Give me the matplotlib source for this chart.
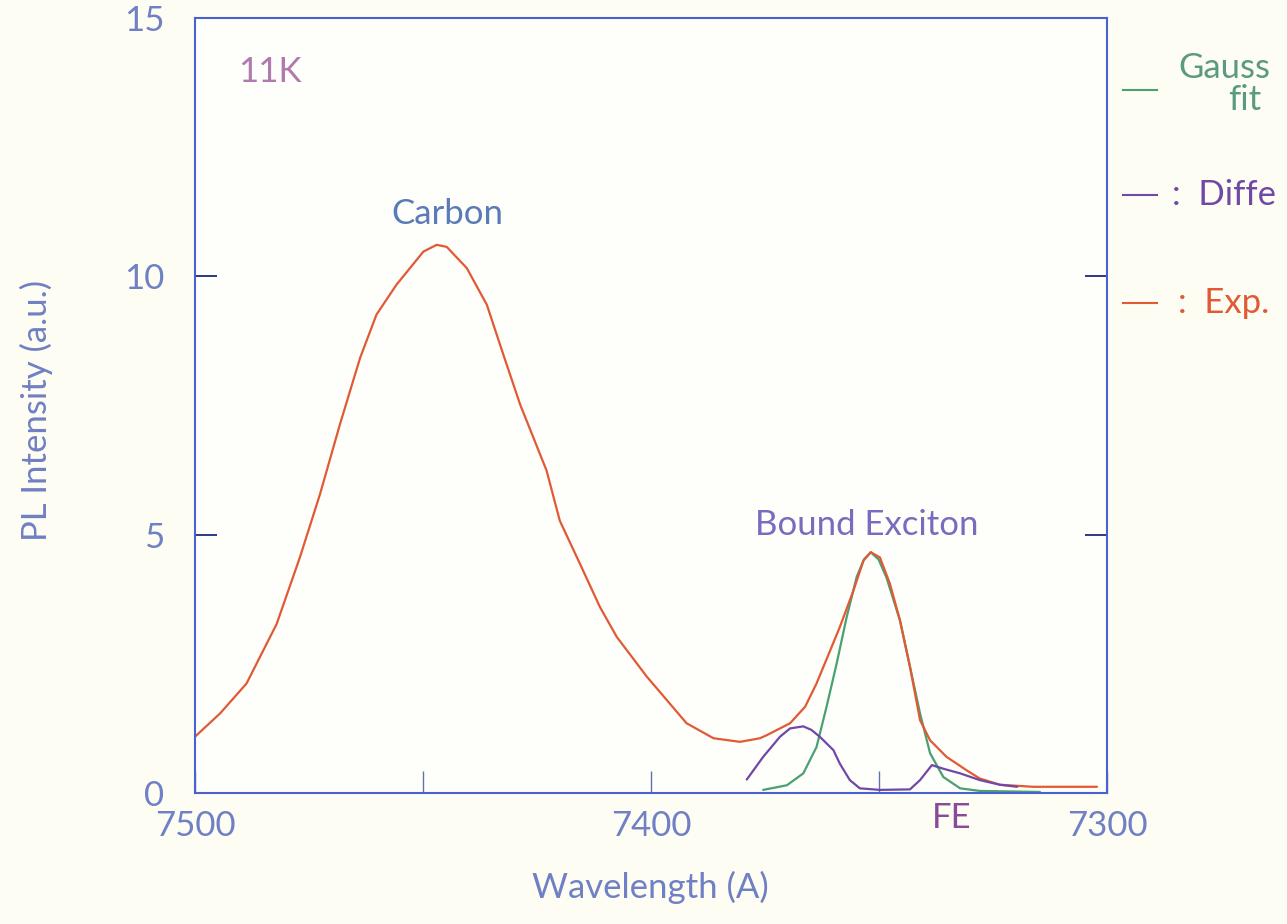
import matplotlib
matplotlib.use("Agg")
import matplotlib.pyplot as plt
from matplotlib.lines import Line2D

wl_exp = [7500.0, 7494.5, 7488.7, 7482.1, 7477.0, 7472.6, 7468.2, 7463.8, 7460.2,
          7455.8, 7449.9, 7447.0, 7444.8, 7440.4, 7436.0, 7432.4, 7428.7, 7422.9,
          7420.0, 7415.6, 7411.2, 7407.5, 7400.9, 7392.2, 7386.3, 7380.5, 7376.1,
          7374.6, 7369.5, 7366.2, 7363.7, 7360.7, 7358.6, 7355.6, 7353.4, 7351.8,
          7349.8, 7347.6, 7345.4, 7343.2, 7341.0, 7338.8, 7335.2, 7330.8, 7327.9,
          7323.5, 7316.2, 7302.2]
pl_exp = [1.09, 1.54, 2.12, 3.27, 4.56, 5.78, 7.14, 8.42, 9.26,
          9.84, 10.48, 10.61, 10.57, 10.16, 9.45, 8.49, 7.52, 6.24,
          5.27, 4.44, 3.60, 3.02, 2.25, 1.35, 1.06, 0.99, 1.06,
          1.12, 1.35, 1.67, 2.12, 2.76, 3.21, 3.92, 4.50, 4.66,
          4.56, 4.05, 3.34, 2.44, 1.41, 1.02, 0.70, 0.44, 0.28,
          0.16, 0.12, 0.12]

# gaussian fit of the bound exciton line
wl_fit = [7375.4, 7370.2, 7366.6, 7363.7, 7361.5, 7359.3, 7357.1, 7354.9, 7353.3,
          7351.8, 7350.1, 7348.4, 7345.4, 7343.2, 7341.0, 7338.8, 7335.9, 7332.2,
          7327.9, 7314.7]
pl_fit = [0.06, 0.15, 0.38, 0.89, 1.67, 2.50, 3.40, 4.18, 4.52,
          4.66, 4.52, 4.18, 3.34, 2.44, 1.54, 0.77, 0.31, 0.09,
          0.04, 0.02]

# difference (exp - fit)
wl_diff = [7379.0, 7375.4, 7371.7, 7369.5, 7366.6, 7364.8, 7363.0, 7360.0, 7358.6,
           7356.4, 7354.2, 7349.8, 7343.2, 7341.0, 7338.4, 7335.9, 7332.2, 7327.9,
           7323.5, 7319.7]
pl_diff = [0.26, 0.70, 1.09, 1.25, 1.29, 1.22, 1.09, 0.83, 0.57,
           0.25, 0.09, 0.06, 0.07, 0.25, 0.54, 0.47, 0.38, 0.25,
           0.16, 0.12]

W, H = 1287, 924
FS = 25
c_axis = "#4a62d0"
c_tick = "#1e2a80"
c_lab = "#7080c4"
c_exp = "#e05a35"
c_fit = "#4aa070"
c_diff = "#7048a8"

plt.rcParams["font.family"] = ["Lato", "DejaVu Sans"]

fig = plt.figure(figsize=(W / 100, H / 100), dpi=100, facecolor="#fdfdf3")
ax = fig.add_axes([195 / W, 1 - 793 / H, 912 / W, 775 / H])
ax.set_facecolor("#fefefa")

kw = dict(lw=1.6, solid_joinstyle="round", solid_capstyle="round")
ax.plot(wl_fit, pl_fit, color=c_fit, **kw)
ax.plot(wl_exp, pl_exp, color=c_exp, **kw)
ax.plot(wl_diff, pl_diff, color=c_diff, **kw)

ax.set_xlim(7500, 7300)
ax.set_ylim(0, 15)
ax.set_xticks([7500, 7400, 7300])
ax.set_xticks([7450, 7350], minor=True)
ax.set_yticks([0, 5, 10, 15])

for s in ax.spines.values():
    s.set_color(c_axis)
    s.set_linewidth(1.5)

ax.tick_params(axis="x", which="major", direction="in", length=16, width=1,
               color="#6070b0", labelsize=FS, labelcolor=c_lab, pad=12)
ax.tick_params(axis="x", which="minor", direction="in", length=16, width=1,
               color="#6070b0")
ax.tick_params(axis="y", which="major", direction="in", length=16, width=1.3,
               color=c_tick, labelsize=FS, labelcolor=c_lab, pad=22,
               right=True)

fig.text(650 / W, 1 - 887 / H, "Wavelength (A)", ha="center", va="center",
         fontsize=FS, color=c_lab)
fig.text(36 / W, 1 - 410 / H, "PL Intensity (a.u.)", ha="center", va="center",
         rotation=90, fontsize=FS, color=c_lab)

ax.text(7490.6, 13.96, "11K", ha="left", va="center", fontsize=FS, color="#b07ab0")
ax.text(7444.7, 11.2, "Carbon", ha="center", va="center", fontsize=FS, color="#5a7ab8")
ax.text(7352.6, 5.19, "Bound Exciton", ha="center", va="center", fontsize=FS,
        color="#7a6ac0")
ax.text(7334.0, -0.48, "FE", ha="center", va="center", fontsize=FS,
        color="#8a4a9a", clip_on=False)


# legend on the right; the words run off the page in the original
def fx(px):
    return px / W


def fy(py):
    return 1 - py / H


legend_rows = [(90, c_fit), (195, c_diff), (303, c_exp)]
for py, col in legend_rows:
    fig.add_artist(Line2D([fx(1123), fx(1157)], [fy(py), fy(py)], color=col, lw=1.5,
                          transform=fig.transFigure))

fig.text(fx(1178), fy(68), "Gauss", ha="left", va="center", fontsize=FS,
         color="#5a9a80")
fig.text(fx(1245), fy(100), "fit", ha="center", va="center", fontsize=FS,
         color="#5a9a80")
fig.text(fx(1172), fy(195), ":  Diffe", ha="left", va="center", fontsize=FS,
         color=c_diff)
fig.text(fx(1178), fy(303), ":  Exp.", ha="left", va="center", fontsize=FS,
         color=c_exp)

fig.savefig("out.png", dpi=100, facecolor=fig.get_facecolor())
